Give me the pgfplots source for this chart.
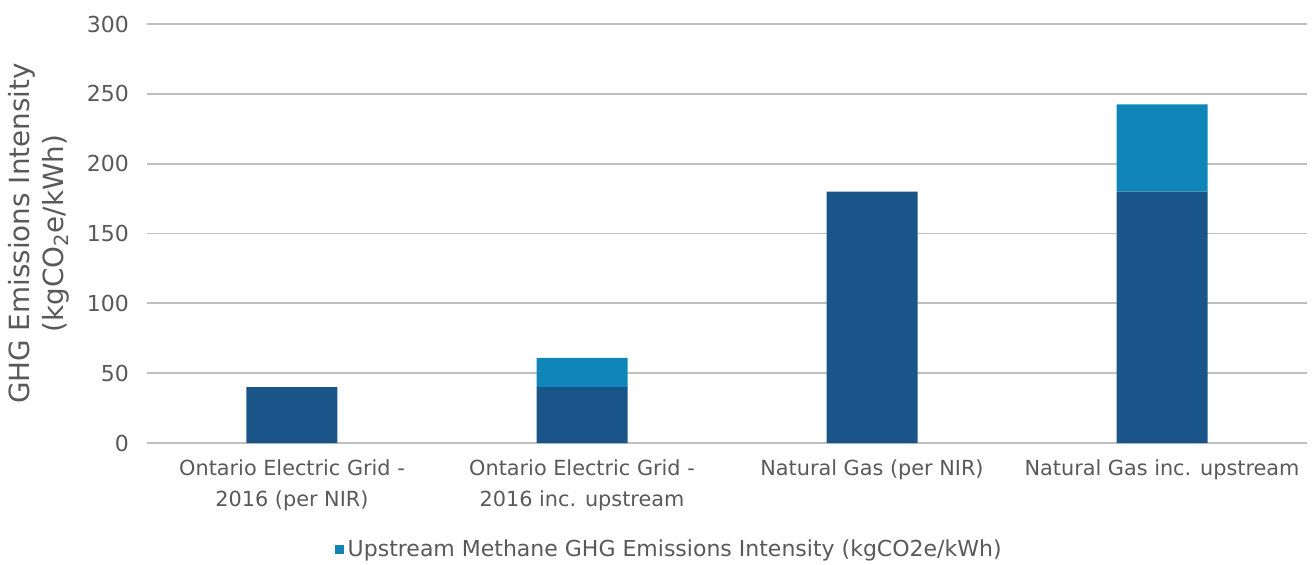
\documentclass[border=0pt]{standalone}
\usepackage{pgfplots}
\pgfplotsset{compat=1.18}
\usepackage{fontspec}
\setmainfont{DejaVu Sans}
\definecolor{darkb}{RGB}{26,85,138}
\definecolor{lightb}{RGB}{16,133,183}
\definecolor{txt}{RGB}{89,89,89}
\definecolor{grid}{RGB}{217,217,217}
\begin{document}
\begin{tikzpicture}
\begin{axis}[
  scale only axis,
  width=580bp, height=209.5bp,
  xmin=-0.5, xmax=3.5,
  ymin=0, ymax=300,
  ytick={0,50,...,300},
  xtick=data,
  xticklabels={{Ontario Electric Grid -\\2016 (per NIR)},{Ontario Electric Grid -\\2016 inc. upstream},{Natural Gas (per NIR)},{Natural Gas inc. upstream}},
  x tick label style={align=center, font=\fontsize{10.4bp}{15.5bp}\selectfont, text=txt, anchor=north, yshift=-5bp},
  y tick label style={font=\fontsize{11bp}{13bp}\selectfont, text=txt},
  /pgf/number format/assume math mode=true,
  yticklabel style={xshift=-5.5bp},
  axis line style={draw=none},
  major tick length=0pt,
  xmajorgrids=false,
  ymajorgrids=true,
  grid style={grid, line width=1pt},
  ybar stacked,
  bar width=45.5bp,
  ylabel={GHG Emissions Intensity\\(kgCO\textsubscript{2}e/kWh)},
  ylabel style={align=center, font=\fontsize{13.9bp}{17bp}\selectfont, text=txt},
  ylabel shift=2bp,
  legend style={draw=none, at={(0.451,-0.255)}, anchor=center, font=\fontsize{11bp}{13bp}\selectfont, text=txt, legend cell align=left, inner sep=0pt},
  legend image code/.code={\fill[#1] (0bp,-2.3bp) rectangle (4.5bp,2.3bp);},
  clip=false,
]
\addplot[fill=darkb, draw=none, forget plot] coordinates {(0,40) (1,40) (2,180) (3,180)};
\addplot[fill=lightb, draw=none] coordinates {(0,0) (1,21) (2,0) (3,62.5)};
\addlegendentry{Upstream Methane GHG Emissions Intensity (kgCO2e/kWh)}
\end{axis}
\path ([xshift=-73.5bp,yshift=-61bp]current axis.south west) rectangle ([xshift=2.5bp,yshift=12bp]current axis.north east);
\end{tikzpicture}
\end{document}
